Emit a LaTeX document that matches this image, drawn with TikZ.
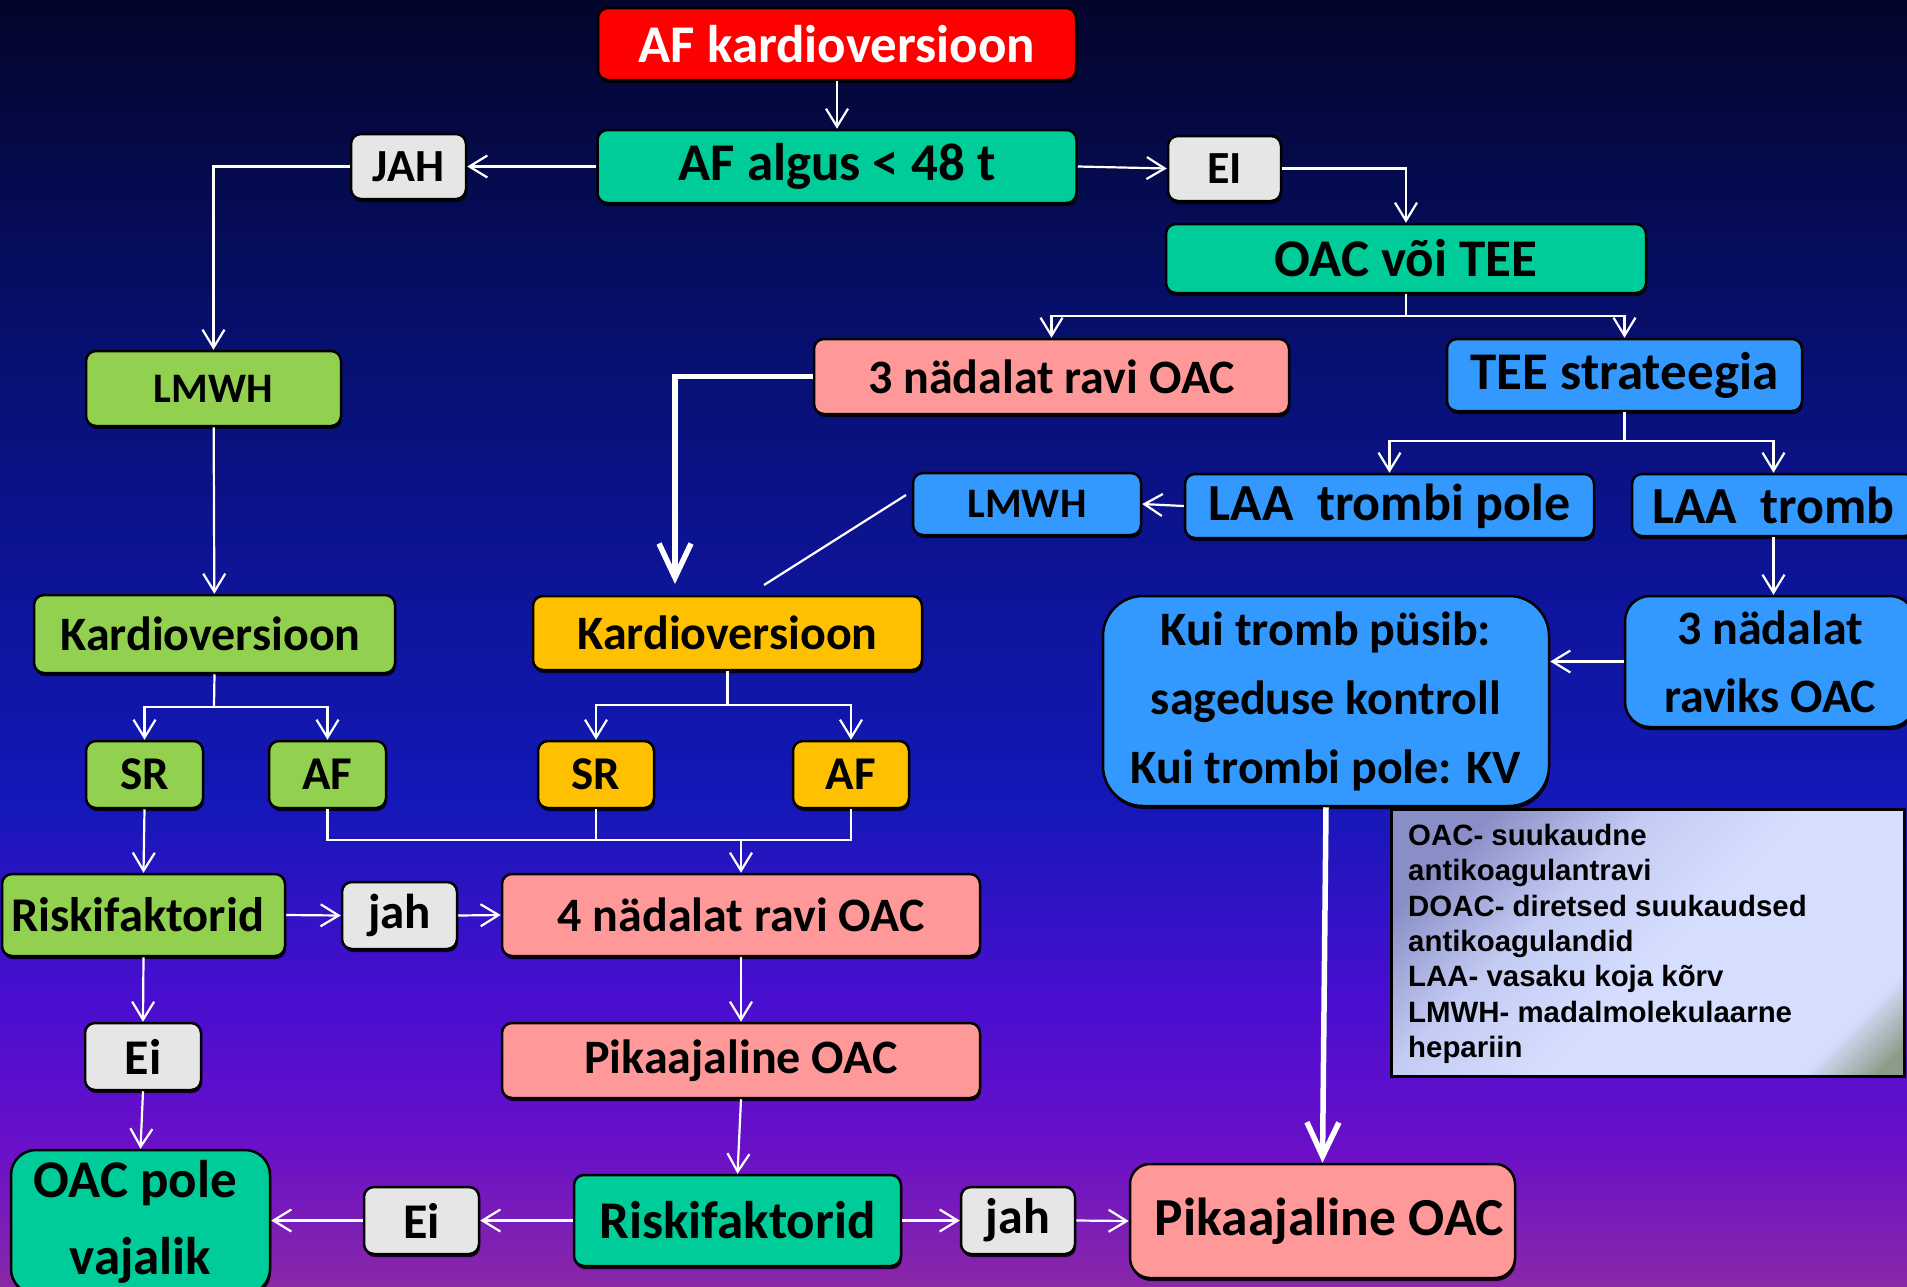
\documentclass[tikz,border=0pt]{standalone}
\usepackage{fontspec}
\setmainfont{Carlito}
\newfontfamily\legfont{Liberation Sans}
\usetikzlibrary{arrows.meta,shadows}
\definecolor{cred}{HTML}{FF0000}
\definecolor{cteal}{HTML}{00CC99}
\definecolor{cgray}{HTML}{E6E6E6}
\definecolor{csalmon}{HTML}{FF9999}
\definecolor{cblue}{HTML}{3399FF}
\definecolor{cgreen}{HTML}{92D050}
\definecolor{corange}{HTML}{FFC000}
\definecolor{bgA}{HTML}{03052A}
\definecolor{bgB}{HTML}{071070}
\definecolor{bgC}{HTML}{0E149A}
\definecolor{bgD}{HTML}{1418B8}
\definecolor{bgE}{HTML}{4A0ED0}
\definecolor{bgF}{HTML}{6A10C8}
\definecolor{bgG}{HTML}{8A28A8}
\definecolor{lgDark}{HTML}{8A8EC6}
\definecolor{lgMid}{HTML}{C3CBF3}
\definecolor{lgLight}{HTML}{D5DEFE}
\definecolor{lgGreen}{HTML}{8C9C88}
\pgfdeclareverticalshading{bgsh}{100bp}{color(0bp)=(bgG); color(25bp)=(bgG); color(30.3bp)=(bgF); color(36.1bp)=(bgE); color(43.9bp)=(bgD); color(51.7bp)=(bgC); color(61.4bp)=(bgB); color(75bp)=(bgA); color(100bp)=(bgA)}
\pgfdeclareverticalshading{legsh}{100bp}{color(0bp)=(lgGreen); color(17bp)=(lgGreen); color(24bp)=(lgLight); color(48bp)=(lgLight); color(62bp)=(lgMid); color(76bp)=(lgDark); color(100bp)=(lgDark)}
\newcommand{\fs}[1]{\bfseries\fontsize{#1}{#1}\selectfont}
\tikzset{
  box/.style={draw=black, line width=2.5pt, rounded corners=10pt, inner sep=0pt,
    align=center, text=black, font=\fs{48},
    drop shadow={shadow xshift=1pt, shadow yshift=-3pt, fill=black, opacity=0.85}},
  arr/.style={draw=white, line width=2.2pt, -{Straight Barb[length=18pt,width=22pt,line width=2.2pt]}},
  ln/.style={draw=white, line width=2.2pt},
  thk/.style={draw=white, line width=5.5pt, -{Straight Barb[length=34pt,width=32pt,line width=5.5pt]}},
}
\begin{document}
\begin{tikzpicture}[x=1pt,y=-1pt]
\clip (0,0) rectangle (1907,1286);
\shade[shading=bgsh] (0,0) rectangle (1907,1286);

% boxes
\node[box, fill=cred, text=white, font=\fs{53}, minimum width=478, minimum height=72] (afk) at (837,44) {AF kardioversioon};
\node[box, fill=cteal, font=\fs{53}, minimum width=479, minimum height=73] (alg) at (837,166.5) {AF algus < 48 t};
\node[box, fill=cgray, font=\fs{46}, minimum width=115, minimum height=65] (jah0) at (408.5,166.5) {JAH};
\node[box, fill=cgray, font=\fs{46}, minimum width=113, minimum height=65] (ei0) at (1224.5,168.5) {EI};
\node[box, fill=cteal, font=\fs{53}, minimum width=480, minimum height=69] (oac) at (1406,258.5) {OAC või TEE};
\node[box, fill=csalmon, minimum width=475, minimum height=75] (n3) at (1051.5,376.5) {3 nädalat ravi OAC};
\node[box, fill=cblue, font=\fs{53}, minimum width=355, minimum height=72] (tee) at (1624.5,375) {TEE strateegia};
\node[box, fill=cgreen, minimum width=255, minimum height=75, font=\fs{42}] (lmg) at (213.5,388.5) {LMWH};
\node[box, fill=cblue, minimum width=228, minimum height=62, font=\fs{42}] (lmb) at (1027,504) {LMWH};
\node[box, fill=cblue, font=\fs{52}, minimum width=409, minimum height=64] (laap) at (1389.5,506) {LAA\ \ trombi pole};
\node[box, fill=cblue, font=\fs{52}, minimum width=283, minimum height=62] (laat) at (1773.5,505) {LAA\ \ tromb};
\node[box, fill=cgreen, minimum width=361, minimum height=78] (kvg) at (214.5,634) {\hspace*{-8pt}Kardioversioon};
\node[box, fill=corange, minimum width=389, minimum height=74] (kvo) at (727.5,633) {Kardioversioon};
\node[box, fill=cblue, minimum width=446, minimum height=210, rounded corners=40pt, font=\bfseries\fontsize{48}{69}\selectfont] (kui) at (1326,701) {Kui tromb püsib:\\sageduse kontroll\\Kui trombi pole: KV};
\node[box, fill=cblue, minimum width=290, minimum height=131, rounded corners=25pt, font=\bfseries\fontsize{48}{68}\selectfont] (n3r) at (1770,661.5) {3 nädalat\\raviks OAC};
\node[box, fill=cgreen, font=\fs{47}, minimum width=117, minimum height=67] (srg) at (144.5,774.5) {SR};
\node[box, fill=cgreen, font=\fs{47}, minimum width=117, minimum height=67] (afg) at (327.5,774.5) {AF};
\node[box, fill=corange, font=\fs{47}, minimum width=116, minimum height=67] (sro) at (596,774.5) {SR};
\node[box, fill=corange, font=\fs{47}, minimum width=116, minimum height=67] (afo) at (851,774.5) {AF};
\node[box, fill=cgreen, font=\fs{48.5}, minimum width=283, minimum height=82] (rfg) at (143.5,915) {\hspace*{-12pt}Riskifaktorid};
\node[box, fill=cgray, font=\fs{49}, minimum width=115, minimum height=67] (jah1) at (399.5,915.5) {jah};
\node[box, fill=csalmon, minimum width=478, minimum height=82] (n4) at (741,915) {4 nädalat ravi OAC};
\node[box, fill=cgray, font=\fs{50}, minimum width=116, minimum height=67] (ei1) at (143,1056.5) {Ei};
\node[box, fill=csalmon, minimum width=478, minimum height=75] (pkm) at (741,1060.5) {Pikaajaline OAC};
\node[box, fill=cteal, minimum width=259, minimum height=144, rounded corners=25pt, font=\bfseries\fontsize{53}{77}\selectfont] (opv) at (140.5,1222) {\hspace*{-10pt}OAC pole\\vajalik};
\node[box, fill=cgray, font=\fs{50}, minimum width=115, minimum height=67] (ei2) at (421.5,1220.5) {Ei};
\node[box, fill=cteal, minimum width=327, minimum height=91, font=\fs{53}] (rft) at (737.5,1220.5) {Riskifaktorid};
\node[box, fill=cgray, font=\fs{50}, minimum width=114, minimum height=67] (jah2) at (1018,1220.5) {jah};
\node[box, fill=csalmon, minimum width=385, minimum height=114, rounded corners=20pt, font=\fs{53.5}] (pkr) at (1322.5,1221) {\hspace*{14pt}Pikaajaline OAC};

% legend
\node[draw=black, line width=2.5pt, shade, shading=legsh, shading angle=45, minimum width=513, minimum height=267, inner sep=0pt, anchor=north west] (leg) at (1390,808) {};
\node[anchor=north west, inner sep=0pt, align=left, font=\legfont\bfseries\fontsize{29.4}{35.3}\selectfont, text=black] (legt) at (1408,824) {OAC- suukaudne\\antikoagulantravi\\DOAC- diretsed suukaudsed\\antikoagulandid\\LAA- vasaku koja kõrv\\LMWH- madalmolekulaarne\\hepariin};

% coordinates
\coordinate (j1) at (1406,316);
\coordinate (j2) at (1624.5,441);
\coordinate (j3) at (214,707);
\coordinate (j4) at (727.5,705);
\coordinate (j5) at (741,840);
\coordinate (tk) at (675,584);
\coordinate (ln1) at (906,495);
\coordinate (ln2) at (764,585);

% connectors
\draw[arr] (afk) -- (alg);
\draw[arr] (alg.west) -- (jah0.east);
\draw[arr] (jah0.west) -| (lmg.north);
\draw[arr] (alg.east) -- (ei0.west);
\draw[arr] (ei0.east) -| (oac.north);
\draw[ln] (oac.south) -- (j1);
\draw[arr] (j1) -| (n3.north);
\draw[arr] (j1) -| (tee.north);
\draw[ln] (tee.south) -- (j2);
\draw[arr] (j2) -| (laap.north);
\draw[arr] (j2) -| (laat.north);
\draw[arr] (laap.west) -- (lmb.east);
\draw[ln] (ln1) -- (ln2);
\draw[thk] (n3.west) -| (tk);
\draw[arr] (laat.south) -- (laat.south |- n3r.north);
\draw[arr] (n3r.west) -- (kui.east |- n3r.west);
\draw[thk] (kui.south) -- (pkr.north);
\draw[arr] (lmg) -- (kvg);
\draw[ln] (kvg.south) -- (j3);
\draw[arr] (j3) -| (srg.north);
\draw[arr] (j3) -| (afg.north);
\draw[ln] (kvo.south) -- (j4);
\draw[arr] (j4) -| (sro.north);
\draw[arr] (j4) -| (afo.north);
\draw[ln] (afg.south) |- (j5) -| (afo.south);
\draw[ln] (sro.south) -- (sro.south |- j5);
\draw[arr] (j5) -- (n4.north);
\draw[arr] (srg.south) -- (rfg.north);
\draw[arr] (rfg.east) -- (jah1.west);
\draw[arr] (jah1.east) -- (n4.west);
\draw[arr] (rfg.south) -- (ei1.north);
\draw[arr] (n4.south) -- (pkm.north);
\draw[arr] (ei1.south) -- (opv.north);
\draw[arr] (pkm.south) -- (rft.north);
\draw[arr] (rft.west) -- (ei2.east);
\draw[arr] (ei2.west) -- (opv.east |- ei2.west);
\draw[arr] (rft.east) -- (jah2.west);
\draw[arr] (jah2.east) -- (pkr.west);
\end{tikzpicture}
\end{document}
